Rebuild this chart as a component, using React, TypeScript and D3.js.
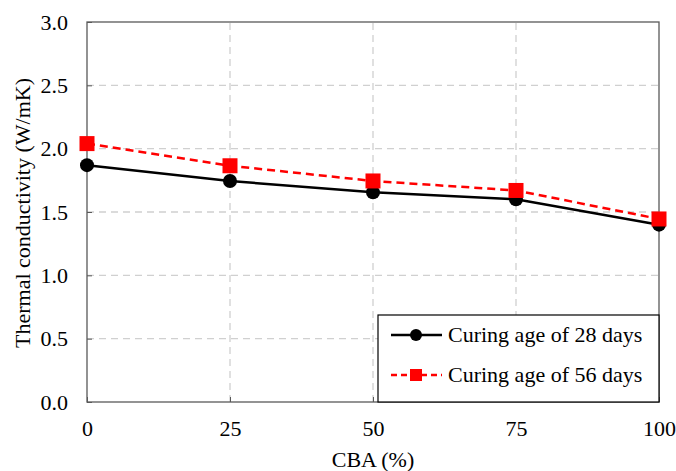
import { useEffect, useRef } from 'react';
import * as d3 from 'd3';

const cba = [0, 25, 50, 75, 100];
const age28 = [1.87, 1.745, 1.655, 1.6, 1.4];
const age56 = [2.04, 1.865, 1.745, 1.67, 1.445];
const yTicks = [0, 0.5, 1.0, 1.5, 2.0, 2.5, 3.0];
const seriesNames = ['Curing age of 28 days', 'Curing age of 56 days'];

const App = () => {
  const ref = useRef<SVGSVGElement>(null);

  useEffect(() => {
    const width = 676;
    const height = 471;
    const m = { top: 22, right: 17, bottom: 69, left: 87 };
    const font = '"Liberation Serif", "Times New Roman", serif';

    const svg = d3.select(ref.current);
    svg.selectAll('*').remove();
    svg.attr('width', width).attr('height', height);

    const x = d3.scaleLinear().domain([0, 100]).range([m.left, width - m.right]);
    const y = d3.scaleLinear().domain([0, 3]).range([height - m.bottom, m.top]);

    const g = svg.append('g');

    // gridlines
    g.selectAll('line.hgrid')
      .data(yTicks.slice(1, -1))
      .enter()
      .append('line')
      .attr('x1', x(0))
      .attr('x2', x(100))
      .attr('y1', (d) => y(d))
      .attr('y2', (d) => y(d))
      .attr('stroke', '#d0d0d0')
      .attr('stroke-width', 1.3)
      .attr('stroke-dasharray', '7,5');

    g.selectAll('line.vgrid')
      .data(cba.slice(1, -1))
      .enter()
      .append('line')
      .attr('x1', (d) => x(d))
      .attr('x2', (d) => x(d))
      .attr('y1', y(0))
      .attr('y2', y(3))
      .attr('stroke', '#d0d0d0')
      .attr('stroke-width', 1.3)
      .attr('stroke-dasharray', '7,5');

    // frame
    g.append('rect')
      .attr('x', x(0))
      .attr('y', y(3))
      .attr('width', x(100) - x(0))
      .attr('height', y(0) - y(3))
      .attr('fill', 'none')
      .attr('stroke', '#595959')
      .attr('stroke-width', 1.3);

    // y axis
    const ya = g
      .append('g')
      .attr('transform', `translate(${x(0)},0)`)
      .call(
        d3
          .axisLeft(y)
          .tickValues(yTicks)
          .tickSize(-5)
          .tickPadding(19)
          .tickFormat((d) => d3.format('.1f')(d as number))
      );
    ya.select('.domain').remove();
    ya.selectAll('line').attr('stroke', '#595959');
    ya.selectAll('text').attr('font-family', font).attr('font-size', 22).attr('fill', '#000');

    // x axis
    const xa = g
      .append('g')
      .attr('transform', `translate(0,${y(0)})`)
      .call(d3.axisBottom(x).tickValues(cba).tickSize(-5).tickPadding(18));
    xa.select('.domain').remove();
    xa.selectAll('line').attr('stroke', '#595959');
    xa.selectAll('text').attr('font-family', font).attr('font-size', 22).attr('fill', '#000');

    // axis titles
    svg
      .append('text')
      .attr('x', x(50))
      .attr('y', 467)
      .attr('text-anchor', 'middle')
      .attr('font-family', font)
      .attr('font-size', 22)
      .text('CBA (%)');

    svg
      .append('text')
      .attr('transform', `translate(30,${(y(0) + y(3)) / 2 + 1}) rotate(-90)`)
      .attr('text-anchor', 'middle')
      .attr('font-family', font)
      .attr('font-size', 22)
      .text('Thermal conductivity (W/mK)');

    const line = d3
      .line<number>()
      .x((_, i) => x(cba[i]))
      .y((d) => y(d));

    g.append('path')
      .datum(age28)
      .attr('d', line)
      .attr('fill', 'none')
      .attr('stroke', '#000')
      .attr('stroke-width', 2.5);

    g.selectAll('circle.p28')
      .data(age28)
      .enter()
      .append('circle')
      .attr('cx', (_, i) => x(cba[i]))
      .attr('cy', (d) => y(d))
      .attr('r', 7)
      .attr('fill', '#000');

    g.append('path')
      .datum(age56)
      .attr('d', line)
      .attr('fill', 'none')
      .attr('stroke', '#ff0000')
      .attr('stroke-width', 2.5)
      .attr('stroke-dasharray', '8,5');

    const sq = 15;
    g.selectAll('rect.p56')
      .data(age56)
      .enter()
      .append('rect')
      .attr('x', (_, i) => x(cba[i]) - sq / 2)
      .attr('y', (d) => y(d) - sq / 2)
      .attr('width', sq)
      .attr('height', sq)
      .attr('fill', '#ff0000');

    // legend
    const lg = svg.append('g');
    lg.append('rect')
      .attr('x', 378)
      .attr('y', 315)
      .attr('width', x(100) - 378)
      .attr('height', y(0) - 315)
      .attr('fill', '#fff')
      .attr('stroke', '#000')
      .attr('stroke-width', 1.2);

    const rows = [335, 375];
    rows.forEach((ry, i) => {
      lg.append('line')
        .attr('x1', 391)
        .attr('x2', 442)
        .attr('y1', ry)
        .attr('y2', ry)
        .attr('stroke', i === 0 ? '#000' : '#ff0000')
        .attr('stroke-width', 2.5)
        .attr('stroke-dasharray', i === 0 ? null : '6,4');
      if (i === 0) {
        lg.append('circle').attr('cx', 416).attr('cy', ry).attr('r', 6).attr('fill', '#000');
      } else {
        lg.append('rect')
          .attr('x', 410)
          .attr('y', ry - 6)
          .attr('width', 12)
          .attr('height', 12)
          .attr('fill', '#ff0000');
      }
      lg.append('text')
        .attr('x', 448)
        .attr('y', ry + 7)
        .attr('font-family', font)
        .attr('font-size', 22)
        .text(seriesNames[i]);
    });
  }, []);

  return <svg ref={ref} style={{ position: 'absolute', left: 0, top: 0 }}></svg>;
};

export default App;
